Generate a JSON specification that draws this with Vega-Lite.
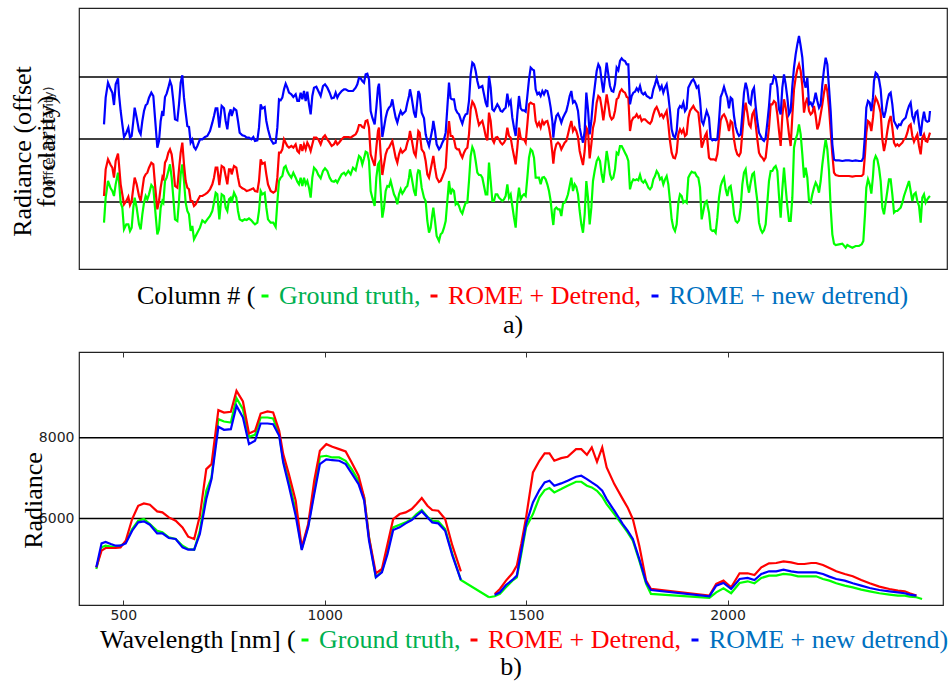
{
  "$schema": "https://vega.github.io/schema/vega-lite/v6.json",
  "padding": {"left": 8, "top": 7, "right": 2, "bottom": 0},
  "bounds": "flush",
  "spacing": 83,
  "background": "#ffffff",
  "config": {
    "view": {"stroke": "#222", "strokeWidth": 1.2},
    "style": {"guide-label": {"font": "Liberation Serif"}, "guide-title": {"font": "Liberation Serif"}},
    "legend": {
      "orient": "none",
      "direction": "horizontal",
      "titleOrient": "left",
      "titleFont": "Liberation Serif",
      "titleFontSize": 26,
      "titleFontWeight": "normal",
      "titleColor": "#000",
      "titlePadding": -4,
      "titleLimit": 1000,
      "labelFont": "Liberation Serif",
      "labelFontSize": 26,
      "labelLimit": 1000,
      "labelOffset": 1,
      "columnPadding": 0,
      "symbolType": "stroke",
      "symbolSize": 49,
      "symbolStrokeWidth": 3,
      "padding": 0
    },
    "title": {"font": "Liberation Serif", "fontSize": 26, "fontWeight": "normal", "color": "#000", "anchor": "middle", "orient": "bottom"}
  },
  "resolve": {"scale": {"color": "independent"}},
  "datasets": {
    "top": [
      {"c":63,"g":-62,"r":18,"b":233},{"c":68,"g":13,"r":98,"b":313},{"c":75,"g":63,"r":128,"b":358},{"c":83,"g":41,"r":111,"b":338},{"c":88,"g":33,"r":103,"b":328},{"c":93,"g":18,"r":73,"b":291},{"c":98,"g":53,"r":123,"b":353},{"c":105,"g":88,"r":145,"b":371},{"c":108,"g":63,"r":113,"b":323},{"c":113,"g":-2,"r":53,"b":273},{"c":118,"g":-17,"r":23,"b":233},{"c":123,"g":-82,"r":-7,"b":195},{"c":130,"g":-67,"r":3,"b":208},{"c":136,"g":-67,"r":16,"b":223},{"c":141,"g":-87,"r":-9,"b":193},{"c":146,"g":-77,"r":3,"b":198},{"c":151,"g":-17,"r":43,"b":243},{"c":155,"g":13,"r":73,"b":283},{"c":161,"g":-17,"r":53,"b":253},{"c":168,"g":-67,"r":18,"b":213},{"c":173,"g":-82,"r":3,"b":203},{"c":178,"g":-37,"r":38,"b":243},{"c":183,"g":-2,"r":73,"b":273},{"c":188,"g":18,"r":83,"b":290},{"c":193,"g":8,"r":88,"b":295},{"c":198,"g":23,"r":103,"b":313},{"c":205,"g":51,"r":118,"b":328},{"c":211,"g":43,"r":113,"b":318},{"c":216,"g":-17,"r":53,"b":253},{"c":223,"g":-97,"r":-22,"b":163},{"c":228,"g":-82,"r":3,"b":183},{"c":233,"g":-17,"r":43,"b":243},{"c":238,"g":3,"r":73,"b":273},{"c":241,"g":-2,"r":65,"b":258},{"c":246,"g":63,"r":118,"b":315},{"c":251,"g":73,"r":128,"b":325},{"c":256,"g":93,"r":148,"b":343},{"c":261,"g":113,"r":158,"b":363},{"c":266,"g":73,"r":143,"b":348},{"c":271,"g":13,"r":103,"b":303},{"c":276,"g":-52,"r":48,"b":248},{"c":283,"g":-57,"r":43,"b":245},{"c":288,"g":3,"r":98,"b":293},{"c":293,"g":83,"r":148,"b":358},{"c":298,"g":113,"r":178,"b":380},{"c":303,"g":63,"r":113,"b":313},{"c":308,"g":-2,"r":63,"b":268},{"c":313,"g":-27,"r":43,"b":228},{"c":318,"g":-37,"r":38,"b":225},{"c":323,"g":-87,"r":3,"b":178},{"c":328,"g":-72,"r":3,"b":187},{"c":333,"g":-112,"r":-12,"b":165},{"c":338,"g":-102,"r":-7,"b":158},{"c":343,"g":-92,"r":3,"b":168},{"c":351,"g":-77,"r":18,"b":188},{"c":358,"g":-55,"r":18,"b":188},{"c":366,"g":-62,"r":23,"b":195},{"c":373,"g":-52,"r":28,"b":198},{"c":381,"g":-42,"r":38,"b":213},{"c":388,"g":-27,"r":53,"b":238},{"c":393,"g":-2,"r":73,"b":258},{"c":398,"g":28,"r":103,"b":281},{"c":403,"g":23,"r":103,"b":281},{"c":409,"g":-52,"r":51,"b":223},{"c":416,"g":23,"r":108,"b":288},{"c":423,"g":18,"r":103,"b":281},{"c":428,"g":-17,"r":78,"b":243},{"c":433,"g":-27,"r":53,"b":218},{"c":438,"g":8,"r":98,"b":263},{"c":443,"g":13,"r":98,"b":278},{"c":446,"g":-2,"r":83,"b":258},{"c":453,"g":28,"r":108,"b":281},{"c":460,"g":13,"r":103,"b":275},{"c":465,"g":-27,"r":73,"b":243},{"c":470,"g":-52,"r":48,"b":208},{"c":478,"g":-57,"r":41,"b":200},{"c":485,"g":-52,"r":38,"b":198},{"c":491,"g":-54,"r":33,"b":193},{"c":498,"g":-49,"r":35,"b":193},{"c":505,"g":-55,"r":38,"b":188},{"c":511,"g":-62,"r":41,"b":195},{"c":516,"g":-67,"r":33,"b":183},{"c":523,"g":-62,"r":31,"b":185},{"c":528,"g":-27,"r":63,"b":223},{"c":533,"g":33,"r":128,"b":293},{"c":538,"g":23,"r":115,"b":281},{"c":545,"g":28,"r":118,"b":285},{"c":550,"g":-17,"r":83,"b":243},{"c":555,"g":-52,"r":53,"b":218},{"c":563,"g":-62,"r":33,"b":188},{"c":571,"g":-62,"r":28,"b":175},{"c":578,"g":-75,"r":33,"b":178},{"c":583,"g":-2,"r":73,"b":223},{"c":588,"g":63,"r":148,"b":308},{"c":593,"g":73,"r":148,"b":305},{"c":598,"g":78,"r":158,"b":313},{"c":603,"g":103,"r":188,"b":338},{"c":608,"g":108,"r":178,"b":355},{"c":613,"g":93,"r":168,"b":343},{"c":618,"g":83,"r":163,"b":328},{"c":625,"g":73,"r":168,"b":323},{"c":631,"g":88,"r":163,"b":315},{"c":638,"g":73,"r":173,"b":323},{"c":643,"g":61,"r":153,"b":303},
      {"c":648,"g":53,"r":148,"b":303},{"c":653,"g":73,"r":173,"b":328},{"c":658,"g":48,"r":153,"b":308},{"c":663,"g":73,"r":173,"b":333},{"c":668,"g":53,"r":158,"b":303},{"c":673,"g":63,"r":178,"b":331},{"c":678,"g":43,"r":168,"b":293},{"c":683,"g":13,"r":153,"b":263},{"c":688,"g":73,"r":173,"b":318},{"c":693,"g":103,"r":193,"b":343},{"c":700,"g":95,"r":193,"b":346},{"c":706,"g":81,"r":188,"b":333},{"c":713,"g":71,"r":173,"b":318},{"c":720,"g":93,"r":193,"b":348},{"c":726,"g":101,"r":200,"b":353},{"c":733,"g":93,"r":188,"b":343},{"c":740,"g":73,"r":178,"b":328},{"c":746,"g":63,"r":168,"b":311},{"c":753,"g":61,"r":173,"b":313},{"c":758,"g":65,"r":183,"b":328},{"c":763,"g":58,"r":173,"b":313},{"c":768,"g":68,"r":178,"b":323},{"c":776,"g":83,"r":188,"b":333},{"c":783,"g":88,"r":195,"b":338},{"c":788,"g":81,"r":195,"b":338},{"c":796,"g":93,"r":195,"b":333},{"c":803,"g":83,"r":193,"b":333},{"c":810,"g":103,"r":198,"b":333},{"c":818,"g":95,"r":203,"b":343},{"c":823,"g":118,"r":213,"b":353},{"c":828,"g":138,"r":231,"b":373},{"c":833,"g":133,"r":231,"b":371},{"c":838,"g":113,"r":225,"b":363},{"c":843,"g":131,"r":223,"b":358},{"c":848,"g":151,"r":243,"b":383},{"c":853,"g":148,"r":245,"b":385},{"c":858,"g":123,"r":223,"b":368},{"c":863,"g":33,"r":143,"b":273},{"c":868,"g":13,"r":128,"b":253},{"c":875,"g":-12,"r":108,"b":233},{"c":880,"g":73,"r":163,"b":283},{"c":885,"g":113,"r":213,"b":343},{"c":888,"g":118,"r":223,"b":355},{"c":893,"g":33,"r":143,"b":283},{"c":898,"g":-47,"r":81,"b":195},{"c":903,"g":-17,"r":113,"b":223},{"c":908,"g":33,"r":143,"b":253},{"c":913,"g":48,"r":158,"b":273},{"c":918,"g":46,"r":163,"b":283},{"c":923,"g":63,"r":173,"b":288},{"c":928,"g":43,"r":183,"b":308},{"c":933,"g":23,"r":158,"b":278},{"c":938,"g":13,"r":133,"b":253},{"c":943,"g":-7,"r":118,"b":238},{"c":948,"g":23,"r":143,"b":258},{"c":953,"g":38,"r":158,"b":273},{"c":958,"g":25,"r":148,"b":263},{"c":963,"g":33,"r":153,"b":268},{"c":968,"g":43,"r":158,"b":273},{"c":973,"g":48,"r":178,"b":298},{"c":978,"g":73,"r":193,"b":318},{"c":981,"g":98,"r":213,"b":338},{"c":986,"g":73,"r":188,"b":313},{"c":993,"g":33,"r":148,"b":268},{"c":998,"g":18,"r":138,"b":253},{"c":1003,"g":83,"r":183,"b":303},{"c":1006,"g":95,"r":213,"b":333},{"c":1010,"g":93,"r":208,"b":323},{"c":1016,"g":43,"r":158,"b":268},{"c":1023,"g":13,"r":148,"b":251},{"c":1028,"g":3,"r":123,"b":203},{"c":1033,"g":-57,"r":83,"b":183},{"c":1038,"g":-92,"r":73,"b":168},{"c":1043,"g":-77,"r":98,"b":193},{"c":1048,"g":-37,"r":123,"b":218},{"c":1051,"g":-17,"r":138,"b":243},{"c":1056,"g":-57,"r":103,"b":213},{"c":1061,"g":-102,"r":73,"b":173},{"c":1068,"g":-117,"r":60,"b":158},{"c":1073,"g":-97,"r":63,"b":165},{"c":1078,"g":-92,"r":75,"b":178},{"c":1083,"g":-77,"r":88,"b":188},{"c":1088,"g":-57,"r":103,"b":208},{"c":1093,"g":3,"r":183,"b":283},{"c":1098,"g":63,"r":243,"b":358},{"c":1103,"g":23,"r":198,"b":311},{"c":1108,"g":38,"r":198,"b":308},{"c":1113,"g":33,"r":188,"b":308},{"c":1118,"g":-7,"r":163,"b":278},{"c":1123,"g":-2,"r":158,"b":268},{"c":1128,"g":-12,"r":158,"b":263},{"c":1133,"g":-27,"r":143,"b":248},{"c":1138,"g":-35,"r":133,"b":235},{"c":1143,"g":-17,"r":148,"b":253},{"c":1148,"g":-2,"r":158,"b":263},{"c":1153,"g":-2,"r":163,"b":265},{"c":1158,"g":63,"r":203,"b":303},{"c":1163,"g":138,"r":278,"b":383},{"c":1168,"g":165,"r":301,"b":418},{"c":1173,"g":153,"r":293,"b":413},{"c":1178,"g":123,"r":278,"b":393},{"c":1183,"g":88,"r":253,"b":363},{"c":1188,"g":81,"r":231,"b":343},{"c":1193,"g":81,"r":238,"b":345},{"c":1198,"g":73,"r":243,"b":348},{"c":1203,"g":48,"r":223,"b":323},{"c":1208,"g":23,"r":198,"b":298},{"c":1213,"g":23,"r":185,"b":285},{"c":1218,"g":118,"r":268,"b":378},{"c":1223,"g":63,"r":243,"b":343},{"c":1228,"g":3,"r":188,"b":278},{"c":1233,"g":3,"r":178,"b":273},{"c":1238,"g":23,"r":193,"b":283},{"c":1243,"g":23,"r":195,"b":293},{"c":1248,"g":13,"r":188,"b":285},{"c":1253,"g":8,"r":178,"b":273},{"c":1258,"g":3,"r":173,"b":271},
      {"c":1263,"g":8,"r":178,"b":278},{"c":1268,"g":18,"r":188,"b":283},{"c":1273,"g":53,"r":223,"b":325},{"c":1278,"g":13,"r":198,"b":293},{"c":1283,"g":23,"r":193,"b":303},{"c":1288,"g":-12,"r":163,"b":253},{"c":1293,"g":-47,"r":138,"b":223},{"c":1298,"g":-77,"r":113,"b":198},{"c":1303,"g":3,"r":163,"b":263},{"c":1308,"g":43,"r":223,"b":318},{"c":1313,"g":8,"r":193,"b":281},{"c":1318,"g":18,"r":188,"b":275},{"c":1323,"g":23,"r":188,"b":275},{"c":1328,"g":18,"r":178,"b":271},{"c":1333,"g":73,"r":233,"b":318},{"c":1338,"g":133,"r":293,"b":368},{"c":1343,"g":158,"r":298,"b":403},{"c":1348,"g":153,"r":295,"b":398},{"c":1353,"g":133,"r":293,"b":395},{"c":1358,"g":73,"r":243,"b":338},{"c":1363,"g":73,"r":228,"b":323},{"c":1368,"g":73,"r":238,"b":328},{"c":1373,"g":53,"r":223,"b":318},{"c":1378,"g":73,"r":243,"b":333},{"c":1383,"g":75,"r":233,"b":323},{"c":1388,"g":68,"r":241,"b":335},{"c":1393,"g":53,"r":243,"b":333},{"c":1398,"g":33,"r":223,"b":313},{"c":1403,"g":3,"r":193,"b":283},{"c":1408,"g":-47,"r":148,"b":243},{"c":1411,"g":-69,"r":115,"b":193},{"c":1415,"g":-22,"r":153,"b":233},{"c":1420,"g":-17,"r":173,"b":258},{"c":1425,"g":-22,"r":178,"b":265},{"c":1430,"g":-22,"r":173,"b":253},{"c":1435,"g":-42,"r":158,"b":238},{"c":1440,"g":-5,"r":168,"b":253},{"c":1445,"g":-2,"r":178,"b":263},{"c":1450,"g":8,"r":183,"b":273},{"c":1455,"g":23,"r":203,"b":293},{"c":1460,"g":48,"r":225,"b":318},{"c":1465,"g":73,"r":243,"b":333},{"c":1470,"g":33,"r":213,"b":298},{"c":1475,"g":53,"r":223,"b":303},{"c":1480,"g":45,"r":213,"b":293},{"c":1485,"g":23,"r":195,"b":273},{"c":1490,"g":-27,"r":153,"b":223},{"c":1495,"g":-67,"r":131,"b":198},{"c":1500,"g":-92,"r":111,"b":178},{"c":1505,"g":-37,"r":153,"b":213},{"c":1510,"g":63,"r":223,"b":328},{"c":1515,"g":13,"r":213,"b":278},{"c":1520,"g":-67,"r":131,"b":203},{"c":1525,"g":-17,"r":173,"b":243},{"c":1530,"g":63,"r":223,"b":303},{"c":1535,"g":93,"r":243,"b":343},{"c":1541,"g":123,"r":298,"b":393},{"c":1546,"g":133,"r":318,"b":413},{"c":1551,"g":123,"r":313,"b":403},{"c":1556,"g":83,"r":283,"b":363},{"c":1561,"g":58,"r":245,"b":328},{"c":1566,"g":103,"r":283,"b":373},{"c":1571,"g":153,"r":323,"b":418},{"c":1576,"g":123,"r":293,"b":383},{"c":1581,"g":83,"r":258,"b":348},{"c":1586,"g":68,"r":248,"b":333},{"c":1591,"g":73,"r":253,"b":331},{"c":1596,"g":98,"r":273,"b":353},{"c":1601,"g":148,"r":308,"b":403},{"c":1606,"g":143,"r":313,"b":395},{"c":1611,"g":168,"r":331,"b":423},{"c":1616,"g":168,"r":338,"b":431},{"c":1621,"g":158,"r":331,"b":425},{"c":1626,"g":148,"r":328,"b":423},{"c":1631,"g":138,"r":315,"b":413},{"c":1636,"g":123,"r":313,"b":413},{"c":1641,"g":38,"r":213,"b":293},{"c":1646,"g":58,"r":243,"b":318},{"c":1651,"g":68,"r":253,"b":328},{"c":1656,"g":65,"r":255,"b":331},{"c":1661,"g":68,"r":263,"b":341},{"c":1666,"g":65,"r":253,"b":333},{"c":1671,"g":81,"r":258,"b":348},{"c":1676,"g":63,"r":243,"b":328},{"c":1681,"g":58,"r":248,"b":323},{"c":1686,"g":65,"r":248,"b":328},{"c":1691,"g":55,"r":243,"b":318},{"c":1696,"g":43,"r":238,"b":315},{"c":1701,"g":38,"r":235,"b":311},{"c":1706,"g":45,"r":243,"b":313},{"c":1711,"g":68,"r":263,"b":338},{"c":1716,"g":78,"r":278,"b":353},{"c":1721,"g":93,"r":285,"b":371},{"c":1726,"g":85,"r":273,"b":353},{"c":1731,"g":68,"r":258,"b":338},{"c":1736,"g":73,"r":263,"b":348},{"c":1741,"g":53,"r":253,"b":328},{"c":1746,"g":68,"r":263,"b":343},{"c":1751,"g":78,"r":273,"b":353},{"c":1756,"g":53,"r":233,"b":318},{"c":1761,"g":3,"r":183,"b":273},{"c":1766,"g":-52,"r":148,"b":218},{"c":1771,"g":-77,"r":133,"b":198},{"c":1776,"g":-87,"r":131,"b":193},{"c":1781,"g":-67,"r":148,"b":213},{"c":1786,"g":-2,"r":203,"b":278},{"c":1791,"g":23,"r":218,"b":288},{"c":1796,"g":18,"r":208,"b":283},{"c":1801,"g":-2,"r":218,"b":298},{"c":1806,"g":3,"r":198,"b":273},{"c":1811,"g":-2,"r":203,"b":281},{"c":1816,"g":73,"r":253,"b":343},{"c":1821,"g":83,"r":273,"b":353},{"c":1826,"g":91,"r":281,"b":363},{"c":1831,"g":88,"r":288,"b":368},{"c":1836,"g":88,"r":278,"b":358},{"c":1841,"g":78,"r":273,"b":343},{"c":1846,"g":73,"r":268,"b":348},{"c":1851,"g":43,"r":223,"b":308},{"c":1856,"g":-52,"r":163,"b":243},{"c":1861,"g":-27,"r":178,"b":233},{"c":1866,"g":-2,"r":198,"b":253},{"c":1871,"g":3,"r":208,"b":273},
      {"c":1878,"g":-32,"r":133,"b":253},{"c":1883,"g":-82,"r":128,"b":191},{"c":1888,"g":-87,"r":128,"b":185},{"c":1893,"g":-85,"r":128,"b":188},{"c":1898,"g":-92,"r":125,"b":185},{"c":1903,"g":-47,"r":143,"b":188},{"c":1908,"g":13,"r":193,"b":243},{"c":1913,"g":48,"r":245,"b":315},{"c":1918,"g":63,"r":258,"b":328},{"c":1923,"g":73,"r":263,"b":345},{"c":1928,"g":38,"r":253,"b":328},{"c":1933,"g":18,"r":238,"b":313},{"c":1938,"g":43,"r":213,"b":281},{"c":1943,"g":48,"r":243,"b":313},{"c":1948,"g":13,"r":238,"b":308},{"c":1953,"g":-37,"r":188,"b":258},{"c":1958,"g":-57,"r":158,"b":225},{"c":1963,"g":-62,"r":143,"b":208},{"c":1968,"g":-55,"r":138,"b":198},{"c":1973,"g":-17,"r":148,"b":203},{"c":1978,"g":53,"r":208,"b":263},{"c":1983,"g":88,"r":268,"b":328},{"c":1988,"g":98,"r":298,"b":358},{"c":1993,"g":53,"r":268,"b":338},{"c":1998,"g":28,"r":233,"b":298},{"c":2003,"g":58,"r":225,"b":293},{"c":2008,"g":83,"r":263,"b":333},{"c":2013,"g":88,"r":273,"b":343},{"c":2018,"g":43,"r":233,"b":288},{"c":2023,"g":3,"r":188,"b":243},{"c":2028,"g":-62,"r":148,"b":208},{"c":2033,"g":-82,"r":138,"b":198},{"c":2038,"g":-92,"r":133,"b":188},{"c":2043,"g":-85,"r":125,"b":183},{"c":2048,"g":-67,"r":133,"b":193},{"c":2053,"g":-2,"r":178,"b":238},{"c":2058,"g":63,"r":223,"b":288},{"c":2063,"g":93,"r":293,"b":353},{"c":2068,"g":93,"r":293,"b":355},{"c":2073,"g":103,"r":303,"b":378},{"c":2078,"g":108,"r":298,"b":373},{"c":2083,"g":93,"r":263,"b":343},{"c":2088,"g":18,"r":213,"b":278},{"c":2093,"g":-47,"r":168,"b":263},{"c":2098,"g":38,"r":258,"b":343},{"c":2103,"g":103,"r":308,"b":383},{"c":2108,"g":43,"r":283,"b":353},{"c":2113,"g":-12,"r":248,"b":313},{"c":2118,"g":-57,"r":203,"b":263},{"c":2123,"g":-57,"r":168,"b":273},{"c":2128,"g":13,"r":258,"b":348},{"c":2133,"g":163,"r":338,"b":403},{"c":2138,"g":188,"r":373,"b":443},{"c":2143,"g":203,"r":398,"b":473},{"c":2148,"g":233,"r":413,"b":498},{"c":2153,"g":203,"r":393,"b":468},{"c":2158,"g":143,"r":348,"b":433},{"c":2163,"g":73,"r":268,"b":363},{"c":2168,"g":103,"r":298,"b":343},{"c":2173,"g":73,"r":313,"b":373},{"c":2178,"g":3,"r":273,"b":293},{"c":2183,"g":-2,"r":263,"b":298},{"c":2188,"g":23,"r":268,"b":288},{"c":2193,"g":43,"r":288,"b":303},{"c":2198,"g":58,"r":258,"b":328},{"c":2203,"g":48,"r":218,"b":303},{"c":2208,"g":28,"r":233,"b":283},{"c":2213,"g":63,"r":263,"b":293},{"c":2218,"g":113,"r":293,"b":353},{"c":2223,"g":153,"r":328,"b":398},{"c":2228,"g":188,"r":353,"b":433},{"c":2233,"g":158,"r":333,"b":413},{"c":2238,"g":93,"r":283,"b":343},{"c":2243,"g":-17,"r":213,"b":273},{"c":2248,"g":-97,"r":143,"b":173},{"c":2253,"g":-125,"r":88,"b":128},{"c":2258,"g":-129,"r":81,"b":125},{"c":2268,"g":-127,"r":78,"b":125},{"c":2278,"g":-125,"r":78,"b":123},{"c":2288,"g":-137,"r":78,"b":125},{"c":2293,"g":-129,"r":78,"b":125},{"c":2298,"g":-132,"r":78,"b":125},{"c":2308,"g":-137,"r":76,"b":123},{"c":2318,"g":-132,"r":78,"b":125},{"c":2328,"g":-132,"r":78,"b":123},{"c":2336,"g":-127,"r":78,"b":123},{"c":2341,"g":-117,"r":83,"b":133},{"c":2346,"g":-37,"r":143,"b":203},{"c":2350,"g":43,"r":208,"b":283},{"c":2355,"g":68,"r":243,"b":303},{"c":2360,"g":53,"r":238,"b":298},{"c":2365,"g":25,"r":213,"b":273},{"c":2370,"g":78,"r":253,"b":313},{"c":2373,"g":123,"r":288,"b":363},{"c":2378,"g":138,"r":313,"b":388},{"c":2383,"g":128,"r":303,"b":383},{"c":2388,"g":103,"r":288,"b":368},{"c":2393,"g":63,"r":268,"b":338},{"c":2398,"g":-17,"r":188,"b":273},{"c":2403,"g":-37,"r":153,"b":253},{"c":2408,"g":-2,"r":178,"b":273},{"c":2413,"g":33,"r":213,"b":303},{"c":2418,"g":68,"r":243,"b":323},{"c":2423,"g":68,"r":258,"b":328},{"c":2428,"g":23,"r":223,"b":293},{"c":2433,"g":-32,"r":178,"b":243},{"c":2438,"g":-27,"r":168,"b":233},{"c":2443,"g":-27,"r":173,"b":223},{"c":2448,"g":-22,"r":168,"b":233},{"c":2453,"g":-17,"r":173,"b":231},{"c":2458,"g":-2,"r":178,"b":243},{"c":2463,"g":18,"r":188,"b":248},{"c":2468,"g":33,"r":193,"b":253},{"c":2473,"g":48,"r":208,"b":273},{"c":2478,"g":63,"r":228,"b":288},{"c":2483,"g":33,"r":233,"b":298},{"c":2488,"g":3,"r":198,"b":258},{"c":2493,"g":23,"r":181,"b":243},{"c":2498,"g":28,"r":193,"b":268},{"c":2503,"g":3,"r":203,"b":273},{"c":2508,"g":-12,"r":168,"b":233},{"c":2513,"g":-62,"r":143,"b":198},{"c":2518,"g":13,"r":193,"b":243},{"c":2523,"g":23,"r":203,"b":271},{"c":2528,"g":-2,"r":183,"b":245},{"c":2533,"g":8,"r":181,"b":241},{"c":2538,"g":15,"r":198,"b":243},{"c":2541,"g":18,"r":208,"b":273}
    ],
    "bot": [
      {"w":433,"r":4785,"g":4744,"b":4785,"p":1},{"w":446,"r":5198,"g":5281,"b":5380,"p":1},{"w":456,"r":5265,"g":5322,"b":5413,"p":1},{"w":469,"r":5265,"g":5298,"b":5364,"p":1},{"w":481,"r":5265,"g":5298,"b":5322,"p":1},{"w":493,"r":5281,"g":5322,"b":5322,"p":1},{"w":506,"r":5446,"g":5405,"b":5380,"p":1},{"w":522,"r":5984,"g":5736,"b":5694,"p":1},{"w":537,"r":6314,"g":5942,"b":5901,"p":1},{"w":551,"r":6372,"g":5984,"b":5926,"p":1},{"w":566,"r":6339,"g":5860,"b":5843,"p":1},{"w":584,"r":6174,"g":5694,"b":5628,"p":1},{"w":597,"r":6149,"g":5653,"b":5628,"p":1},{"w":613,"r":6025,"g":5529,"b":5513,"p":1},{"w":630,"r":5942,"g":5488,"b":5488,"p":1},{"w":647,"r":5777,"g":5322,"b":5281,"p":1},{"w":661,"r":5546,"g":5240,"b":5223,"p":1},{"w":676,"r":5488,"g":5223,"b":5223,"p":1},{"w":690,"r":6066,"g":5694,"b":5612,"p":1},{"w":706,"r":7223,"g":6686,"b":6479,"p":1},{"w":719,"r":7347,"g":7017,"b":6975,"p":1},{"w":736,"r":8686,"g":8463,"b":8273,"p":1},{"w":750,"r":8628,"g":8405,"b":8198,"p":1},{"w":767,"r":8645,"g":8380,"b":8215,"p":1},{"w":781,"r":9165,"g":8983,"b":8793,"p":1},{"w":797,"r":8901,"g":8711,"b":8504,"p":1},{"w":812,"r":8107,"g":8025,"b":7843,"p":1},{"w":827,"r":8174,"g":8074,"b":7926,"p":1},{"w":841,"r":8603,"g":8504,"b":8355,"p":1},{"w":858,"r":8653,"g":8504,"b":8355,"p":1},{"w":872,"r":8628,"g":8479,"b":8339,"p":1},{"w":887,"r":8174,"g":8091,"b":8050,"p":1},{"w":897,"r":7595,"g":7430,"b":7388,"p":1},{"w":911,"r":7099,"g":6934,"b":6810,"p":1},{"w":928,"r":6438,"g":6190,"b":6066,"p":1},{"w":943,"r":5281,"g":5240,"b":5215,"p":1},{"w":959,"r":5860,"g":5818,"b":5777,"p":1},{"w":974,"r":6934,"g":6686,"b":6603,"p":1},{"w":988,"r":7678,"g":7529,"b":7347,"p":1},{"w":1004,"r":7843,"g":7554,"b":7463,"p":1},{"w":1019,"r":7777,"g":7512,"b":7446,"p":1},{"w":1036,"r":7719,"g":7512,"b":7430,"p":1},{"w":1052,"r":7661,"g":7430,"b":7347,"p":1},{"w":1067,"r":7388,"g":7223,"b":7116,"p":1},{"w":1084,"r":7058,"g":6934,"b":6851,"p":1},{"w":1098,"r":6521,"g":6521,"b":6438,"p":1},{"w":1110,"r":5529,"g":5529,"b":5446,"p":1},{"w":1127,"r":4637,"g":4537,"b":4537,"p":1},{"w":1142,"r":4744,"g":4686,"b":4661,"p":1},{"w":1156,"r":5364,"g":5198,"b":5116,"p":1},{"w":1170,"r":5984,"g":5777,"b":5711,"p":1},{"w":1186,"r":6108,"g":5843,"b":5777,"p":1},{"w":1201,"r":6149,"g":5901,"b":5876,"p":1},{"w":1216,"r":6232,"g":5984,"b":5959,"p":1},{"w":1228,"r":6355,"g":6108,"b":6066,"p":1},{"w":1241,"r":6504,"g":6207,"b":6174,"p":1},{"w":1255,"r":6314,"g":6041,"b":6025,"p":1},{"w":1267,"r":6207,"g":5942,"b":5901,"p":1},{"w":1282,"r":6190,"g":5926,"b":5876,"p":1},{"w":1299,"r":5984,"g":5736,"b":5694,"p":1},{"w":1317,"r":5322,"g":5116,"b":5075,"p":1},{"w":1338,"r":4686,"g":4471,"b":4471,"p":1},{"w":1408,"g":4042,"p":1},
      {"w":1408,"g":4042,"p":2},{"w":1422,"r":4124,"g":4066,"b":4099,"p":2},{"w":1435,"r":4248,"g":4124,"b":4165,"p":2},{"w":1450,"r":4455,"g":4289,"b":4347,"p":2},{"w":1466,"r":4637,"g":4455,"b":4471,"p":2},{"w":1477,"r":4827,"g":4537,"b":4579,"p":2},{"w":1488,"r":5364,"g":5116,"b":5198,"p":2},{"w":1500,"r":6025,"g":5777,"b":5860,"p":2},{"w":1517,"r":7141,"g":6108,"b":6397,"p":2},{"w":1533,"r":7430,"g":6521,"b":6703,"p":2},{"w":1546,"r":7612,"g":6703,"b":6893,"p":2},{"w":1558,"r":7612,"g":6752,"b":6934,"p":2},{"w":1570,"r":7430,"g":6645,"b":6810,"p":2},{"w":1587,"r":7496,"g":6727,"b":6868,"p":2},{"w":1603,"r":7529,"g":6810,"b":6934,"p":2},{"w":1624,"r":7719,"g":6909,"b":7033,"p":2},{"w":1637,"r":7719,"g":6909,"b":7058,"p":2},{"w":1651,"r":7579,"g":6810,"b":6975,"p":2},{"w":1663,"r":7760,"g":6769,"b":6893,"p":2},{"w":1676,"r":7405,"g":6686,"b":6810,"p":2},{"w":1689,"r":7760,"g":6537,"b":6686,"p":2},{"w":1700,"r":7264,"g":6355,"b":6479,"p":2},{"w":1719,"r":6851,"g":6108,"b":6190,"p":2},{"w":1740,"r":6479,"g":5818,"b":5860,"p":2},{"w":1752,"r":6273,"g":5653,"b":5694,"p":2},{"w":1765,"r":5984,"g":5446,"b":5488,"p":2},{"w":1781,"r":5322,"g":4951,"b":4992,"p":2},{"w":1798,"r":4455,"g":4372,"b":4413,"p":2},{"w":1810,"r":4248,"g":4124,"b":4223,"p":2},{"w":1955,"r":4083,"g":4025,"b":4066,"p":2},{"w":1972,"r":4372,"g":4165,"b":4331,"p":2},{"w":1990,"r":4455,"g":4265,"b":4397,"p":2},{"w":2009,"r":4289,"g":4141,"b":4248,"p":2},{"w":2030,"r":4637,"g":4397,"b":4496,"p":2},{"w":2050,"r":4637,"g":4438,"b":4521,"p":2},{"w":2067,"r":4595,"g":4389,"b":4471,"p":2},{"w":2084,"r":4785,"g":4521,"b":4620,"p":2},{"w":2103,"r":4884,"g":4579,"b":4686,"p":2},{"w":2121,"r":4893,"g":4579,"b":4686,"p":2},{"w":2139,"r":4934,"g":4620,"b":4727,"p":2},{"w":2158,"r":4909,"g":4603,"b":4686,"p":2},{"w":2175,"r":4868,"g":4562,"b":4661,"p":2},{"w":2191,"r":4868,"g":4562,"b":4661,"p":2},{"w":2208,"r":4893,"g":4562,"b":4661,"p":2},{"w":2220,"r":4893,"g":4562,"b":4661,"p":2},{"w":2237,"r":4843,"g":4496,"b":4620,"p":2},{"w":2253,"r":4769,"g":4455,"b":4554,"p":2},{"w":2270,"r":4686,"g":4389,"b":4496,"p":2},{"w":2291,"r":4620,"g":4331,"b":4455,"p":2},{"w":2311,"r":4562,"g":4289,"b":4389,"p":2},{"w":2332,"r":4471,"g":4232,"b":4331,"p":2},{"w":2353,"r":4389,"g":4190,"b":4273,"p":2},{"w":2377,"r":4306,"g":4141,"b":4223,"p":2},{"w":2402,"r":4248,"g":4108,"b":4190,"p":2},{"w":2423,"r":4207,"g":4083,"b":4165,"p":2},{"w":2440,"r":4190,"g":4083,"b":4141,"p":2},{"w":2452,"r":4141,"g":4058,"b":4108,"p":2},{"w":2469,"r":4083,"g":4042,"b":4083,"p":2},{"w":2483,"g":4000,"p":2}
    ]
  },
  "vconcat": [
    {
      "width": 868,
      "height": 261,
      "title": {"text": "a)", "offset": 3},
      "layer": [
        {
          "data": {"values": [{"v": 0}, {"v": 189}, {"v": 375}]},
          "mark": {"type": "rule", "color": "#000", "strokeWidth": 1.6},
          "encoding": {
            "y": {"field": "v", "type": "quantitative",
              "scale": {"domain": [-201, 582], "nice": false, "zero": false},
              "axis": {"orient": "left", "labels": false, "ticks": false, "domain": false, "grid": false,
                "title": "(offset for clarity)", "titleFont": "DejaVu Sans", "titleFontSize": 12, "titleFontWeight": "normal", "titleColor": "#333", "titlePadding": 24}}
          }
        },
        {
          "data": {"name": "top"},
          "transform": [{"fold": ["g", "r", "b"], "as": ["series", "val"]}],
          "mark": {"type": "line", "strokeWidth": 2.2},
          "encoding": {
            "x": {"field": "c", "type": "quantitative", "scale": {"domain": [-12, 2592], "nice": false, "zero": false}, "axis": null},
            "y": {"field": "val", "type": "quantitative",
              "scale": {"domain": [-201, 582], "nice": false, "zero": false},
              "axis": {"orient": "left", "labels": false, "ticks": false, "domain": false, "grid": false,
                "title": ["Radiance (offset", "for clarity)"], "titleFont": "Liberation Serif", "titleFontWeight": "normal", "titleColor": "#000", "titleFontSize": 26, "titlePadding": 20, "titleY": 143, "titleLineHeight": 24}},
            "color": {"field": "series", "type": "nominal",
              "scale": {"domain": ["g", "r", "b"], "range": ["#00ff00", "#ff0000", "#0000ff"]},
              "legend": {"title": "Column # (", "orient": "none", "legendX": 58, "legendY": 275,
                "labelExpr": "datum.value === 'g' ? 'Ground truth,' : datum.value === 'r' ? 'ROME + Detrend,' : 'ROME + new detrend)'",
                "encode": {
                  "labels": {"update": {"font": {"value": "Liberation Serif"}, "fill": {"signal": "datum.value === 'g' ? '#00b050' : datum.value === 'r' ? '#ff0000' : '#0070c0'"}}},
                  "symbols": {"update": {"stroke": {"signal": "datum.value === 'g' ? '#00b050' : datum.value === 'r' ? '#ff0000' : '#0070c0'"}}}
                }}
            }
          }
        }
      ],
      "resolve": {"axis": {"y": "independent"}}
    },
    {
      "width": 864,
      "height": 253,
      "title": {"text": "b)", "offset": 1},
      "layer": [
        {
          "data": {"values": [{"v": 6000}, {"v": 8000}]},
          "mark": {"type": "rule", "color": "#000", "strokeWidth": 1.5},
          "encoding": {
            "x": {"datum": 390, "type": "quantitative",
              "scale": {"domain": [390, 2535], "nice": false, "zero": false},
              "axis": {"orient": "top", "values": [500, 1000, 1500, 2000], "labels": false, "ticks": true, "tickSize": -5, "tickColor": "#333", "domain": false, "grid": false, "title": null}},
            "x2": {"datum": 2535},
            "y": {"field": "v", "type": "quantitative",
              "scale": {"domain": [3850, 10130], "nice": false, "zero": false},
              "axis": {"orient": "left", "values": [6000, 8000], "format": "d", "ticks": false, "domain": false, "grid": false,
                "labelFont": "DejaVu Sans", "labelFontSize": 14, "labelColor": "#222", "labelPadding": 5,
                "title": "Radiance", "titleFont": "Liberation Serif", "titleFontWeight": "normal", "titleColor": "#000", "titleFontSize": 26, "titlePadding": -8, "titleY": 148}}
          }
        },
        {
          "data": {"name": "bot"},
          "transform": [{"fold": ["g", "r", "b"], "as": ["series", "val"]}, {"filter": "isValid(datum.val)"}],
          "mark": {"type": "line", "strokeWidth": 2.2},
          "encoding": {
            "x": {"field": "w", "type": "quantitative",
              "scale": {"domain": [390, 2535], "nice": false, "zero": false},
              "axis": {"orient": "bottom", "values": [500, 1000, 1500, 2000], "format": "d", "ticks": true, "tickSize": -5, "tickColor": "#333", "domain": false, "grid": false,
                "labelFont": "DejaVu Sans", "labelFontSize": 14, "labelColor": "#222", "labelPadding": 8, "title": null}},
            "y": {"field": "val", "type": "quantitative",
              "scale": {"domain": [3850, 10130], "nice": false, "zero": false},
              "axis": {"orient": "left", "values": [6000, 8000], "format": "d", "ticks": false, "domain": false, "grid": false,
                "labelFont": "DejaVu Sans", "labelFontSize": 14, "labelColor": "#222", "labelPadding": 5,
                "title": "Radiance", "titleFont": "Liberation Serif", "titleFontWeight": "normal", "titleColor": "#000", "titleFontSize": 26, "titlePadding": -8, "titleY": 148}},
            "detail": {"field": "p", "type": "nominal"},
            "color": {"field": "series", "type": "nominal",
              "scale": {"domain": ["g", "r", "b"], "range": ["#00ff00", "#ff0000", "#0000ff"]},
              "legend": {"title": "Wavelength [nm] (", "orient": "none", "legendX": 21, "legendY": 275,
                "labelExpr": "datum.value === 'g' ? 'Ground truth,' : datum.value === 'r' ? 'ROME + Detrend,' : 'ROME + new detrend)'",
                "encode": {
                  "labels": {"update": {"font": {"value": "Liberation Serif"}, "fill": {"signal": "datum.value === 'g' ? '#00b050' : datum.value === 'r' ? '#ff0000' : '#0070c0'"}}},
                  "symbols": {"update": {"stroke": {"signal": "datum.value === 'g' ? '#00b050' : datum.value === 'r' ? '#ff0000' : '#0070c0'"}}}
                }}
            }
          }
        }
      ],
      "resolve": {"axis": {"x": "independent"}}
    }
  ]
}
